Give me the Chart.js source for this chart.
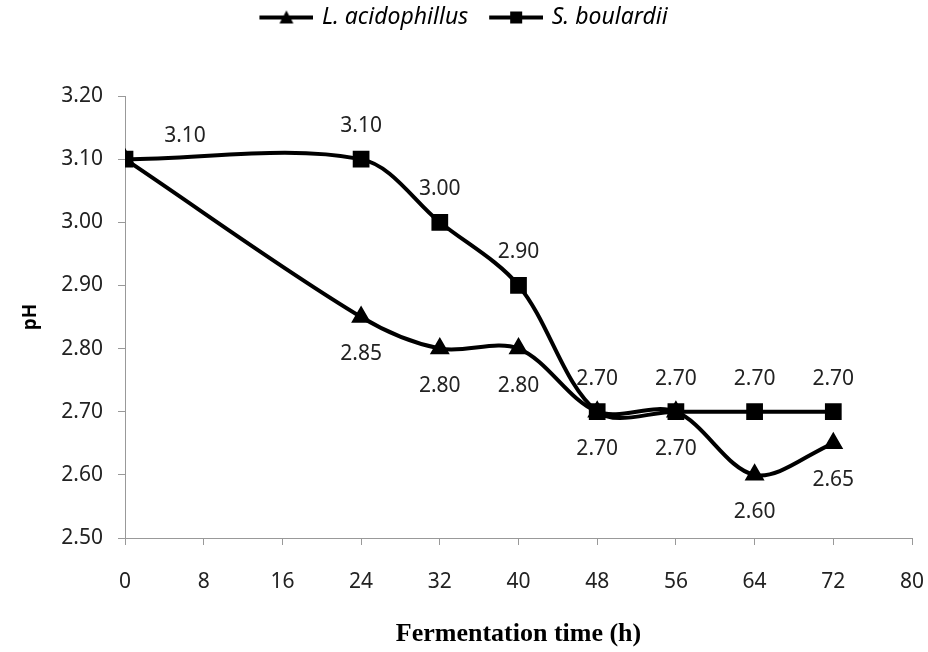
<!DOCTYPE html>
<html>
<head>
<meta charset="utf-8">
<script src="https://cdn.jsdelivr.net/npm/chart.js@4"></script>
<style>
  html, body { margin: 0; padding: 0; background: #fff; }
  #wrap { width: 928px; height: 652px; }
</style>
</head>
<body>
<div id="wrap"><canvas id="myChart"></canvas></div>
<script>
const hours = [0, 24, 32, 40, 48, 56, 64, 72];
const acidophillusPH = [3.10, 2.85, 2.80, 2.80, 2.70, 2.70, 2.60, 2.65];
const boulardiiPH = [3.10, 3.10, 3.00, 2.90, 2.70, 2.70, 2.70, 2.70];
const seriesNames = ["L. acidophillus", "S. boulardii"];

const FONT = "'Noto Sans', sans-serif";

function toPoints(values) {
  return values.map((v, i) => ({ x: hours[i], y: v }));
}

// legend swatch: line with the marker in the middle
function legendMarker(style) {
  const c = document.createElement("canvas");
  c.width = 72;
  c.height = 16;
  const g = c.getContext("2d");
  g.strokeStyle = "#000";
  g.lineWidth = 4;
  g.beginPath();
  g.moveTo(18, 8);
  g.lineTo(72, 8);
  g.stroke();
  g.fillStyle = "#000";
  if (style === "rect") {
    g.fillRect(39, 2, 12, 12);
  } else {
    g.beginPath();
    g.moveTo(45, 1);
    g.lineTo(52, 14);
    g.lineTo(38, 14);
    g.closePath();
    g.fill();
  }
  return c;
}

// extra room between the legend and the plot
const legendSpacer = {
  id: "legendSpacer",
  beforeLayout(chart) {
    const lg = chart.legend;
    if (lg && !lg._spaced) {
      const fit = lg.fit.bind(lg);
      lg.fit = function () {
        fit();
        this.height += 57;
      };
      lg._spaced = true;
    }
  },
};

const pointLabels = {
  id: "pointLabels",
  afterDatasetsDraw(chart) {
    const ctx = chart.ctx;
    ctx.save();
    ctx.font = "21px " + FONT;
    ctx.fillStyle = "#222";
    ctx.textAlign = "center";
    ctx.textBaseline = "middle";
    chart.data.datasets.forEach((ds, i) => {
      const meta = chart.getDatasetMeta(i);
      meta.data.forEach((pt, j) => {
        if (ds.labelSkip.includes(j)) return;
        let dx = 0;
        let dy = ds.labelDy;
        if (j === 0 && ds.labelFirstDx) {
          dx = ds.labelFirstDx;
          dy = ds.labelFirstDy;
        }
        ctx.fillText(ds.data[j].y.toFixed(2), pt.x + dx, pt.y + dy);
      });
    });
    ctx.restore();
  },
};

const ctx = document.querySelector("#myChart");

new Chart(ctx, {
  type: "line",
  data: {
    datasets: [
      {
        label: seriesNames[0],
        data: toPoints(acidophillusPH),
        borderColor: "#000",
        backgroundColor: "#000",
        borderWidth: 4,
        pointStyle: "triangle",
        pointRadius: 7.5,
        tension: 0.33,
        labelDy: 37,
        labelSkip: [0],
        legendImg: legendMarker("triangle"),
      },
      {
        label: seriesNames[1],
        data: toPoints(boulardiiPH),
        borderColor: "#000",
        backgroundColor: "#000",
        borderWidth: 4,
        pointStyle: "rect",
        pointRadius: 9,
        tension: 0.33,
        labelDy: -33,
        labelFirstDx: 60,
        labelFirstDy: -23,
        labelSkip: [],
        legendImg: legendMarker("rect"),
      },
    ],
  },
  options: {
    responsive: true,
    maintainAspectRatio: false,
    animation: false,
    layout: { padding: { top: 0, right: 16, left: 0, bottom: 0 } },
    plugins: {
      tooltip: { enabled: false },
      legend: {
        position: "top",
        labels: {
          usePointStyle: true,
          pointStyleWidth: 66,
          color: "#000",
          padding: 6,
          font: { family: FONT, size: 23, style: "italic" },
          generateLabels(chart) {
            const items = Chart.defaults.plugins.legend.labels.generateLabels(chart);
            items.forEach((item) => {
              item.pointStyle = chart.data.datasets[item.datasetIndex].legendImg;
            });
            return items;
          },
        },
      },
    },
    scales: {
      x: {
        type: "linear",
        min: 0,
        max: 80,
        afterFit(scale) {
          scale.height = 114;
          scale.paddingLeft = 0;
          scale.paddingRight = 0;
        },
        ticks: {
          stepSize: 8,
          color: "#222",
          padding: 24,
          font: { family: FONT, size: 21 },
        },
        grid: { drawOnChartArea: false, color: "#999", tickLength: 7 },
        border: { color: "#999", width: 1 },
        title: {
          display: true,
          text: "Fermentation time (h)",
          color: "#000",
          font: { family: "'Liberation Serif', serif", size: 26, weight: "bold" },
          padding: { top: 0, bottom: 2 },
        },
      },
      y: {
        min: 2.5,
        max: 3.2,
        afterFit(scale) {
          scale.width = 125;
        },
        ticks: {
          stepSize: 0.1,
          color: "#222",
          padding: 15,
          font: { family: FONT, size: 21 },
          callback: (v) => v.toFixed(2),
        },
        grid: { drawOnChartArea: false, color: "#999", tickLength: 7 },
        border: { color: "#999", width: 1 },
        title: {
          display: true,
          text: "pH",
          color: "#000",
          font: { family: FONT, size: 19, weight: "bold" },
          padding: { top: 19, bottom: 0 },
        },
      },
    },
  },
  plugins: [legendSpacer, pointLabels],
});
</script>
</body>
</html>
